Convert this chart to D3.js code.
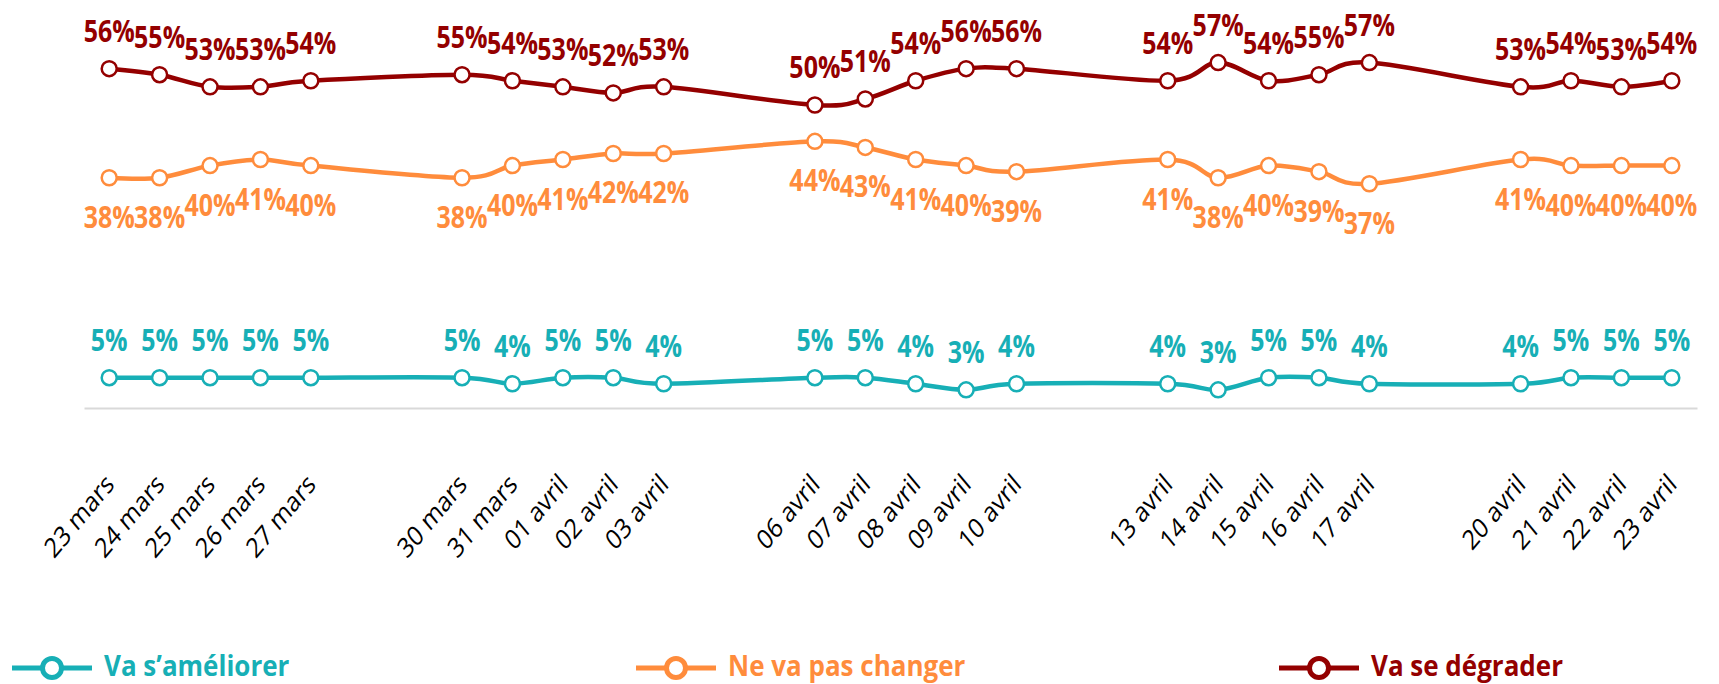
<!DOCTYPE html>
<html><head><meta charset="utf-8">
<script src="https://cdn.jsdelivr.net/npm/d3@7"></script>
<style>body{margin:0;background:#fff} svg{display:block}</style>
</head><body><svg id="chart" width="1719" height="684"></svg>
<script>
const dates = ["2020-03-23","2020-03-24","2020-03-25","2020-03-26","2020-03-27",
  "2020-03-30","2020-03-31","2020-04-01","2020-04-02","2020-04-03",
  "2020-04-06","2020-04-07","2020-04-08","2020-04-09","2020-04-10",
  "2020-04-13","2020-04-14","2020-04-15","2020-04-16","2020-04-17",
  "2020-04-20","2020-04-21","2020-04-22","2020-04-23"];
const tickLabels = ["23 mars","24 mars","25 mars","26 mars","27 mars",
  "30 mars","31 mars","01 avril","02 avril","03 avril",
  "06 avril","07 avril","08 avril","09 avril","10 avril",
  "13 avril","14 avril","15 avril","16 avril","17 avril",
  "20 avril","21 avril","22 avril","23 avril"];
const seriesNames = ["Va s’améliorer","Ne va pas changer","Va se dégrader"];
const ameliorer  = [5,5,5,5,5, 5,4,5,5,4, 5,5,4,3,4, 4,3,5,5,4, 4,5,5,5];
const pasChanger = [38,38,40,41,40, 38,40,41,42,42, 44,43,41,40,39, 41,38,40,39,37, 41,40,40,40];
const degrader   = [56,55,53,53,54, 55,54,53,52,53, 50,51,54,56,56, 54,57,54,55,57, 53,54,53,54];
const seriesColors = ["#17AFB6","#FF8C3C","#940000"];
const labelSide = ["above","below","above"];

const parse = d3.timeParse("%Y-%m-%d");
const X = dates.map(parse);
const svg = d3.select("#chart");
const font = "'Open Sans', sans-serif";

const x = d3.scaleTime()
  .domain([d3.timeHour.offset(X[0], -12), d3.timeHour.offset(X[X.length-1], 12)])
  .range([84, 1697]);
const y = d3.scaleLinear().domain([0, 60]).range([408, 44.4]);

// axis
const axis = d3.axisBottom(x).tickValues(X).tickSize(0)
  .tickFormat((d,i) => tickLabels[i]);
const gAxis = svg.append("g").attr("transform", "translate(0,408)").call(axis);
gAxis.select(".domain").attr("stroke", "#D9D9D9").attr("stroke-width", 2);
gAxis.selectAll(".tick text")
  .attr("font-family", font)
  .attr("font-size", 23)
  .attr("fill", "#000")
  .attr("text-anchor", "end")
  .attr("x", 0).attr("y", 0).attr("dy", "0.35em")
  .attr("transform", "translate(0,71) scale(1,1.2) rotate(-45)");

const series = [ameliorer, pasChanger, degrader];
const line = d3.line().x((d,i) => x(X[i])).y(d => y(d)).curve(d3.curveCardinal.tension(0));

series.forEach((vals, s) => {
  const g = svg.append("g");
  g.append("path").datum(vals)
    .attr("d", line).attr("fill", "none")
    .attr("stroke", seriesColors[s]).attr("stroke-width", 4.5)
    .attr("stroke-linejoin", "round");
  g.selectAll("circle").data(vals).join("circle")
    .attr("cx", (d,i) => x(X[i])).attr("cy", d => y(d)).attr("r", 7.5)
    .attr("fill", "#fff").attr("stroke", seriesColors[s]).attr("stroke-width", 2.5);
  g.selectAll("text").data(vals).join("text")
    .attr("transform", (d,i) => `translate(${x(X[i])},${labelSide[s] === "above" ? y(d) - 27 : y(d) + 50}) scale(1,1.18)`)
    .attr("text-anchor", "middle")
    .attr("font-family", font)
    .attr("font-weight", "bold").attr("font-size", 25)
    .attr("fill", seriesColors[s])
    .text(d => d + "%");
});

// legend
const legendX = [12, 636, 1279];
const legend = svg.append("g");
seriesNames.forEach((name, s) => {
  const lx = legendX[s];
  legend.append("line").attr("x1", lx).attr("x2", lx + 80).attr("y1", 668).attr("y2", 668)
    .attr("stroke", seriesColors[s]).attr("stroke-width", 5);
  legend.append("circle").attr("cx", lx + 40).attr("cy", 668).attr("r", 9.5)
    .attr("fill", "#fff").attr("stroke", seriesColors[s]).attr("stroke-width", 5);
  legend.append("text").attr("transform", `translate(${lx + 92},676) scale(1,1.08)`)
    .attr("font-family", font)
    .attr("font-weight", "bold").attr("font-size", 26)
    .attr("fill", seriesColors[s]).text(name);
});
</script></body></html>
